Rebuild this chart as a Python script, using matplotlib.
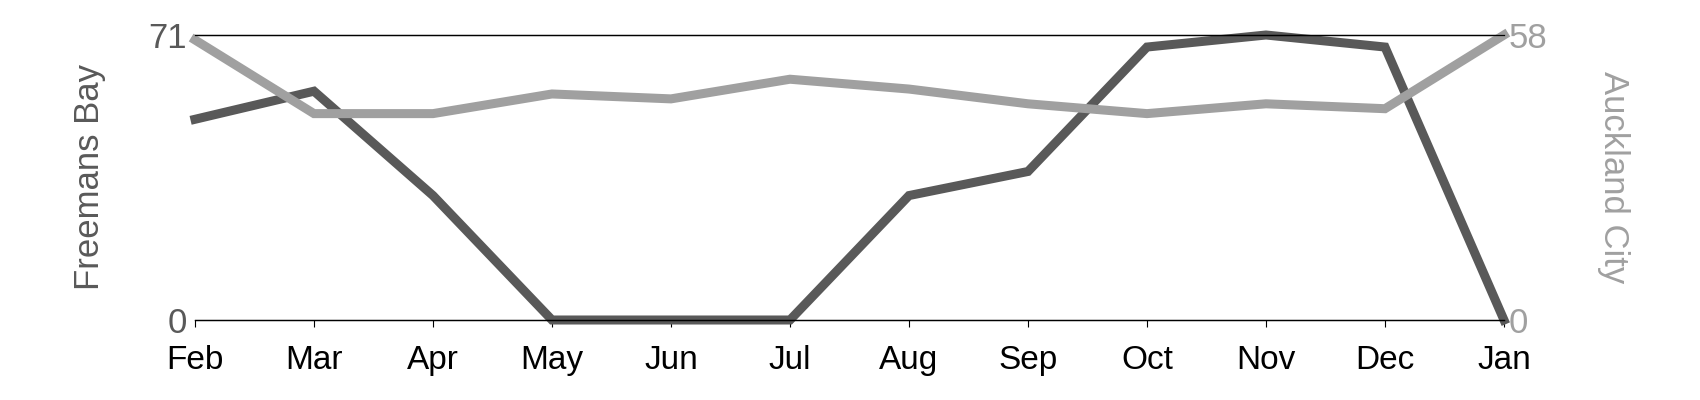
import matplotlib.pyplot as plt

plt.rcParams['font.family'] = ['Liberation Sans', 'DejaVu Sans']

months = ['Feb', 'Mar', 'Apr', 'May', 'Jun', 'Jul', 'Aug', 'Sep', 'Oct', 'Nov', 'Dec', 'Jan']
freemans_bay = [50, 57, 31, 0, 0, 0, 31, 37, 68, 71, 68, 0]
auckland_city = [57, 42, 42, 46, 45, 49, 47, 44, 42, 44, 43, 58]

DARK = '#595959'
LIGHT = '#a0a0a0'

fig = plt.figure(figsize=(17, 4), dpi=100)
ax = fig.add_axes([0.1147, 0.2, 0.77, 0.7125])
x = range(len(months))

ax.plot(x, freemans_bay, color=DARK, lw=6.5, clip_on=False, solid_joinstyle='miter')
ax.set_xlim(0, len(months) - 1)
ax.set_ylim(0, max(freemans_bay))
ax.set_yticks([0, max(freemans_bay)])
ax.tick_params(axis='y', length=0, labelsize=25, labelcolor=DARK, pad=6)
ax.set_xticks(list(x))
ax.set_xticklabels(months)
ax.tick_params(axis='x', length=5, width=0.8, labelsize=24, pad=13, direction='out')
ax.set_ylabel('Freemans Bay', fontsize=25, color=DARK, labelpad=30)

ax2 = ax.twinx()
ax2.plot(x, auckland_city, color=LIGHT, lw=6.5, clip_on=False, solid_joinstyle='miter')
ax2.set_ylim(0, max(auckland_city))
ax2.set_yticks([0, max(auckland_city)])
ax2.tick_params(axis='y', length=0, labelsize=25, labelcolor=LIGHT, pad=3)
ax2.set_ylabel('Auckland City', fontsize=25, color=LIGHT, rotation=-90, labelpad=60)

for a in (ax, ax2):
    a.spines['left'].set_visible(False)
    a.spines['right'].set_visible(False)
    a.spines['top'].set_linewidth(0.9)
    a.spines['bottom'].set_linewidth(0.9)

fig.savefig('out.png', dpi=100)
